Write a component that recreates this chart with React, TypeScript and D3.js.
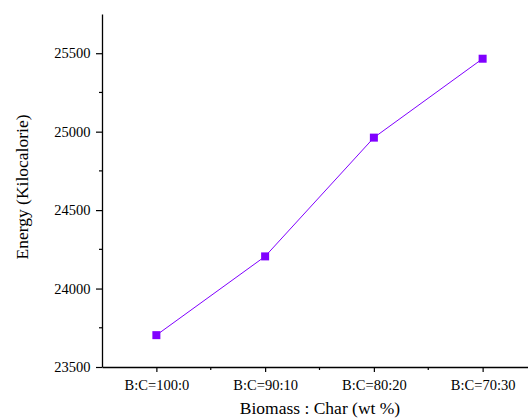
import React, { useEffect, useRef } from 'react'
import * as d3 from 'd3'

// blend ratios on the x axis and the energy
const categories = ['B:C=100:0', 'B:C=90:10', 'B:C=80:20', 'B:C=70:30']
const energy = [23703, 24205, 24962, 25465]
const yTicks = [23500, 24000, 24500, 25000, 25500]

const W = 528
const H = 420
const color = '#8000ff'
const font = 'Liberation Serif'

export default function App() {
  const ref = useRef<SVGSVGElement>(null)

  useEffect(() => {
    const svg = d3.select(ref.current)
    svg.selectAll('*').remove()

    const left = 102, top = 14, bottom = 367, right = 537

    const x = d3.scalePoint<string>()
      .domain(categories)
      .range([left, right])
      .padding(0.5)

    const y = d3.scaleLinear()
      .domain([23500, 25750])
      .range([bottom, top])

    // y axis
    const yAxis = d3.axisLeft(y)
      .tickValues(yTicks)
      .tickFormat(d3.format('d'))
      .tickSize(6)
      .tickSizeOuter(0)
      .tickPadding(5.5)
    const gy = svg.append('g')
      .attr('transform', 'translate(' + left + ',0)')
      .call(yAxis)
    gy.attr('font-family', font).attr('font-size', 14.5)
    gy.select('.domain').attr('stroke', '#000').attr('stroke-width', 1.3)
    gy.selectAll('.tick line').attr('stroke-width', 1.2)
    gy.selectAll('.tick text').attr('fill', '#000')

    // minor y ticks
    const minor = d3.range(23750, 25750, 500)
    svg.append('g').selectAll('line')
      .data(minor)
      .enter().append('line')
      .attr('x1', left - 3).attr('x2', left)
      .attr('y1', d => y(d)).attr('y2', d => y(d))
      .attr('stroke', '#000').attr('stroke-width', 1.2)

    // x axis
    const xAxis = d3.axisBottom(x)
      .tickSize(5)
      .tickSizeOuter(0)
      .tickPadding(8)
    const gx = svg.append('g')
      .attr('transform', 'translate(0,' + bottom + ')')
      .call(xAxis)
    gx.attr('font-family', font).attr('font-size', 14.5)
    gx.select('.domain').attr('stroke', '#000').attr('stroke-width', 1.3)
    gx.selectAll('.tick line').attr('stroke-width', 1.2)
    gx.selectAll('.tick text').attr('fill', '#000')

    // minor x ticks halfway between categories
    const step = x.step()
    svg.append('g').selectAll('line')
      .data(categories.slice(0, -1))
      .enter().append('line')
      .attr('x1', d => (x(d) as number) + step / 2)
      .attr('x2', d => (x(d) as number) + step / 2)
      .attr('y1', bottom).attr('y2', bottom + 3)
      .attr('stroke', '#000').attr('stroke-width', 1.2)

    // line + markers
    const line = d3.line<number>()
      .x((d, i) => x(categories[i]) as number)
      .y(d => y(d))

    svg.append('path')
      .datum(energy)
      .attr('d', line)
      .attr('fill', 'none')
      .attr('stroke', color)
      .attr('stroke-width', 1)

    svg.append('g').selectAll('rect')
      .data(energy)
      .enter().append('rect')
      .attr('x', (d, i) => (x(categories[i]) as number) - 4)
      .attr('y', d => y(d) - 4)
      .attr('width', 8)
      .attr('height', 8)
      .attr('fill', color)

    // titles
    svg.append('text')
      .attr('x', 320)
      .attr('y', 414)
      .attr('text-anchor', 'middle')
      .attr('font-family', font)
      .attr('font-size', 17.5)
      .text('Biomass : Char (wt %)')

    svg.append('text')
      .attr('transform', 'translate(28,187) rotate(-90)')
      .attr('text-anchor', 'middle')
      .attr('font-family', font)
      .attr('font-size', 17.5)
      .text('Energy (Kilocalorie)')
  }, [])

  return (
    <svg ref={ref} width={W} height={H}
      style={{ position: 'absolute', left: 0, top: 0, background: '#fff', fontFamily: font }} />
  )
}
